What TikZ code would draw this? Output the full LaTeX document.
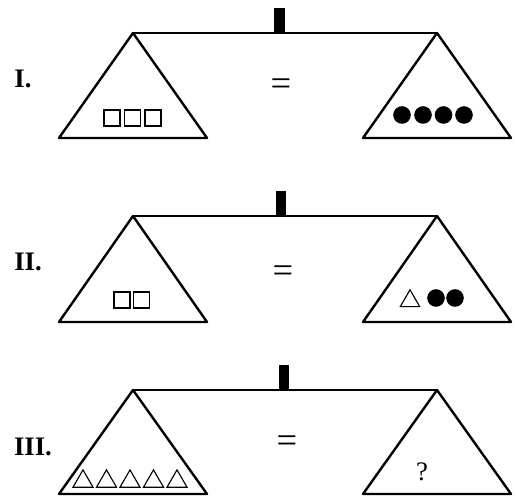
\documentclass[tikz,border=0pt]{standalone}
\usepackage{fontspec}
\setmainfont{Liberation Serif}
\usepackage{tikz}
\usetikzlibrary{shapes.geometric}

\tikzset{
  pan/.style={line width=1.7pt, line join=round},
  post/.style={fill=black, draw=none, minimum width=2.7mm, minimum height=6.2mm, inner sep=0pt, anchor=south},
  cube/.style={draw, line width=1.1pt, minimum size=4.1mm, inner sep=0pt},
  ball/.style={circle, fill=black, minimum size=4.4mm, inner sep=0pt},
  pyr/.style={regular polygon, regular polygon sides=3, draw, line width=0.8pt, minimum size=5.8mm, inner sep=0pt},
  rowlabel/.style={font=\fontsize{19}{21}\selectfont\bfseries},
  eqsign/.style={font=\fontsize{26}{28}\selectfont}
}

\begin{document}
\begin{tikzpicture}[x=0.025cm, y=-0.025cm]
\useasboundingbox (0,0) rectangle (516,504);

% scale I
\coordinate (a1) at (133,33);
\coordinate (b1) at (437,33);
\draw[pan] (a1) -- (b1);
\node[post] (p1) at (279.5,33) {};
\draw[pan] (a1) -- (59,138) -- (207,138) -- cycle;
\draw[pan] (b1) -- (363,138) -- (511,138) -- cycle;
\node[rowlabel] (l1) at (23,79) {I.};
\node[eqsign] (e1) at (281,87) {=};
\node[cube] (s11) at (112,118) {};
\node[cube] (s12) at (132.5,118) {};
\node[cube] (s13) at (153,118) {};
\node[ball] (c11) at (402,115) {};
\node[ball] (c12) at (423,115) {};
\node[ball] (c13) at (443.5,115) {};
\node[ball] (c14) at (464,115) {};

% scale II
\coordinate (a2) at (133,216);
\coordinate (b2) at (437,216);
\draw[pan] (a2) -- (b2);
\node[post] (p2) at (281,216) {};
\draw[pan] (a2) -- (59,322) -- (207,322) -- cycle;
\draw[pan] (b2) -- (363,322) -- (511,322) -- cycle;
\node[rowlabel] (l2) at (28,262) {II.};
\node[eqsign] (e2) at (283,274) {=};
\node[cube] (s21) at (122,300) {};
\node[cube] (s22) at (141.5,300) {};
\node[pyr, minimum size=5.6mm] (t21) at (410,301) {};
\node[ball] (c21) at (436,298) {};
\node[ball] (c22) at (455,298) {};

% scale III
\coordinate (a3) at (133,390);
\coordinate (b3) at (437,390);
\draw[pan] (a3) -- (b3);
\node[post] (p3) at (284,390) {};
\draw[pan] (a3) -- (59,494) -- (207,494) -- cycle;
\draw[pan] (b3) -- (363,494) -- (511,494) -- cycle;
\node[rowlabel] (l3) at (33,447) {III.};
\node[eqsign] (e3) at (287,444) {=};
\node[pyr] (t31) at (83,481.5) {};
\node[pyr] (t32) at (106.5,481.5) {};
\node[pyr] (t33) at (130,481.5) {};
\node[pyr] (t34) at (153.5,481.5) {};
\node[pyr] (t35) at (177,481.5) {};
\node[font=\fontsize{19}{21}\selectfont] (q3) at (422,472) {?};
\end{tikzpicture}
\end{document}
